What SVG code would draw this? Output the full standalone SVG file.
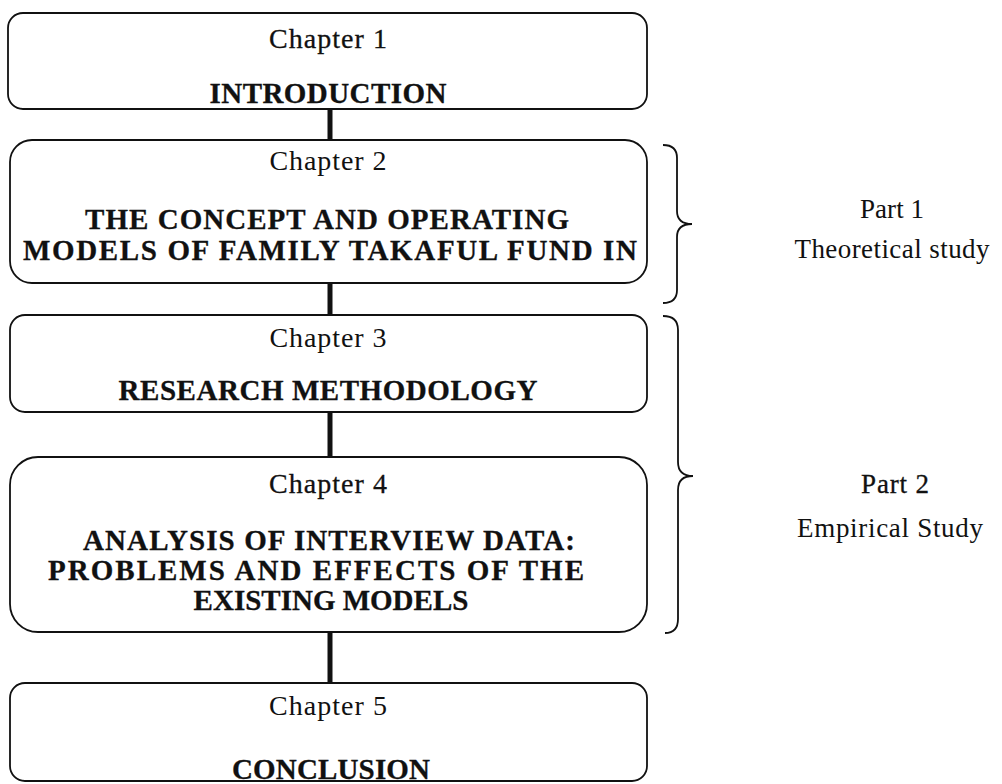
<svg xmlns="http://www.w3.org/2000/svg" width="1002" height="784" viewBox="0 0 1002 784">
<style>
.box{fill:none;stroke:#111;stroke-width:1.8}
.conn{stroke:#111;stroke-width:5}
.brace{fill:none;stroke:#111;stroke-width:1.8}
.ch{font-family:"Liberation Serif",serif;font-size:28px;fill:#111;text-anchor:middle}
.hv{stroke:#111;stroke-width:0.3}
.tt{font-family:"Liberation Serif",serif;font-size:29px;font-weight:bold;fill:#111;text-anchor:middle;stroke:#111;stroke-width:0.3}
.pt{font-family:"Liberation Serif",serif;font-size:27px;fill:#111;text-anchor:middle}
</style>
<rect width="1002" height="784" fill="#fff"/>
<g id="connectors">
<line class="conn" x1="330" y1="109" x2="330" y2="140"/>
<line class="conn" x1="330" y1="283" x2="330" y2="315"/>
<line class="conn" x1="330" y1="412" x2="330" y2="457"/>
<line class="conn" x1="330" y1="632" x2="330" y2="683"/>
</g>
<g id="ch1">
<rect class="box" x="8" y="13" width="639" height="96" rx="15"/>
<text class="ch hv" x="328" y="48" textLength="118" lengthAdjust="spacing">Chapter 1</text>
<text class="tt" x="328" y="103" textLength="237" lengthAdjust="spacing">INTRODUCTION</text>
</g>
<g id="ch2">
<rect class="box" x="10" y="140" width="637" height="143" rx="22"/>
<text class="ch" x="328" y="170" textLength="117" lengthAdjust="spacing">Chapter 2</text>
<text class="tt" x="327" y="229" textLength="484" lengthAdjust="spacing">THE CONCEPT AND OPERATING</text>
<text class="tt" x="330" y="260" textLength="614" lengthAdjust="spacing">MODELS OF FAMILY TAKAFUL FUND IN</text>
</g>
<g id="ch3">
<rect class="box" x="10" y="315" width="637" height="97" rx="15"/>
<text class="ch" x="328" y="347" textLength="117" lengthAdjust="spacing">Chapter 3</text>
<text class="tt" x="328" y="400" textLength="419" lengthAdjust="spacing">RESEARCH METHODOLOGY</text>
</g>
<g id="ch4">
<rect class="box" x="10" y="457" width="637" height="175" rx="28"/>
<text class="ch hv" x="328" y="493" textLength="118" lengthAdjust="spacing">Chapter 4</text>
<text class="tt" x="329" y="550" textLength="492" lengthAdjust="spacing">ANALYSIS OF INTERVIEW DATA:</text>
<text class="tt" x="316" y="580" textLength="536" lengthAdjust="spacing">PROBLEMS AND EFFECTS OF THE</text>
<text class="tt" x="331" y="610">EXISTING MODELS</text>
</g>
<g id="ch5">
<rect class="box" x="10" y="683" width="637" height="98" rx="15"/>
<text class="ch" x="328" y="715" textLength="118" lengthAdjust="spacing">Chapter 5</text>
<text class="tt" x="331" y="779" textLength="198" lengthAdjust="spacing">CONCLUSION</text>
</g>
<g id="part1">
<path class="brace" d="M663,145 Q677,145 677,158 L677,211 Q677,224 692,224 Q677,224 677,237 L677,290 Q677,303 663,303"/>
<text class="pt" x="892" y="218" textLength="64" lengthAdjust="spacing">Part 1</text>
<text class="pt" x="892" y="258" textLength="195" lengthAdjust="spacing">Theoretical study</text>
</g>
<g id="part2">
<path class="brace" d="M663,316 Q678,316 678,330 L678,462 Q678,476 693,476 Q678,476 678,490 L678,619 Q678,633 665,633"/>
<text class="pt hv" x="895" y="493" textLength="68" lengthAdjust="spacing">Part 2</text>
<text class="pt" x="890" y="537" textLength="186" lengthAdjust="spacing">Empirical Study</text>
</g>
</svg>
